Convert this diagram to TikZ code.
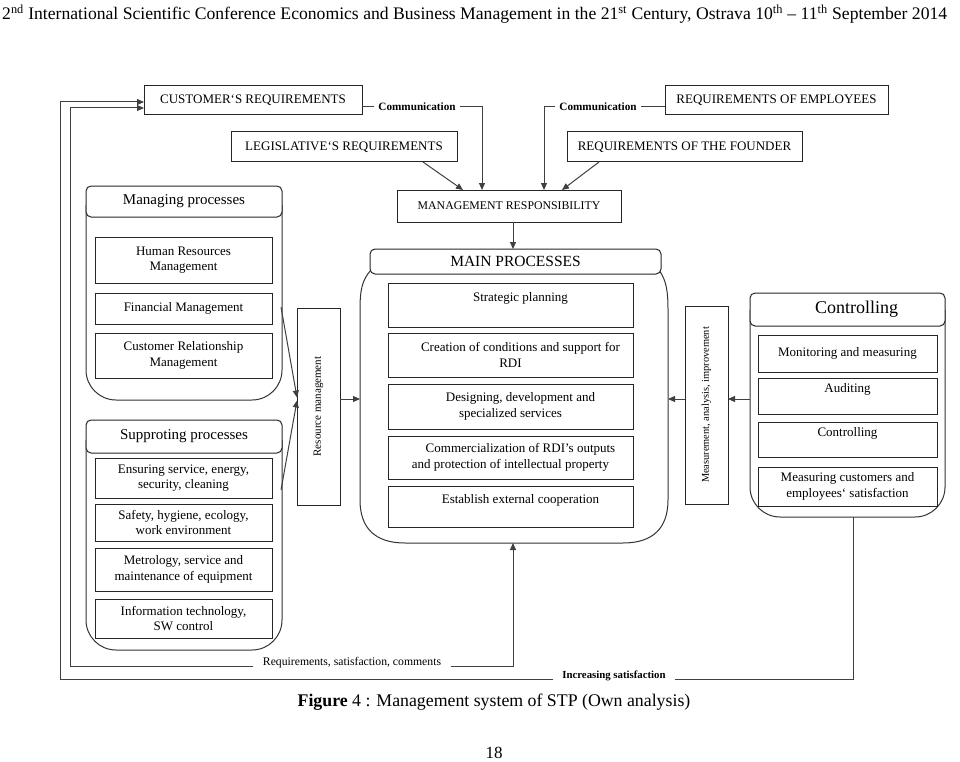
\documentclass[tikz,border=0pt]{standalone}
\usepackage{fontspec}
\setmainfont{Liberation Serif}
\usepackage{graphicx}
\usetikzlibrary{arrows.meta}
\newcommand\fs[2]{\fontsize{#1}{#2}\selectfont}
\newcommand\mybox[7][]{\node[box,#1,minimum width={(#5-#3)*1pt},minimum height={(#6-#4)*1pt}] (#2) at ({(#3+#5)/2},{(#4+#6)/2}) {#7};}
\tikzset{
  box/.style={draw=black!85, line width=1pt, inner sep=0pt, outer sep=0pt, align=center, font=\fs{13}{15.5}},
  capbox/.style={font=\fs{13}{15}},
  hdr/.style={rounded corners=5pt, fill=white},
  grp/.style={draw=black!80, line width=1pt},
  ln/.style={draw=black!75, line width=1pt},
  arr/.style={ln, -{Triangle[length=7pt,width=6pt]}},
  lbl/.style={fill=white, inner ysep=1pt, inner xsep=8pt}
}
\begin{document}
\begin{tikzpicture}[x=1pt,y=-1pt]
\useasboundingbox (0,0) rectangle (960,762);
\fill[white] (0,0) rectangle (960,762);

% page header
\node[anchor=base west, inner sep=0pt] (head) at (2,20) {\resizebox{945pt}{!}{\fs{17}{20}2\textsuperscript{nd} International Scientific Conference Economics and Business Management in the 21\textsuperscript{st} Century, Ostrava 10\textsuperscript{th} – 11\textsuperscript{th} September 2014}};

% top requirement boxes
\mybox[capbox]{cust}{144}{86}{362}{115}{CUSTOMER‘S REQUIREMENTS}
\mybox[capbox]{leg}{231}{132}{457}{162}{LEGISLATIVE‘S REQUIREMENTS}
\mybox[capbox]{emp}{665}{86}{888}{115}{REQUIREMENTS OF EMPLOYEES}
\mybox[capbox]{fnd}{567}{132}{802}{162}{REQUIREMENTS OF THE FOUNDER}
\mybox[capbox,font=\fs{11.8}{13}]{mgmt}{397}{190}{621}{222}{MANAGEMENT RESPONSIBILITY}

\node[lbl, inner xsep=4pt, font=\bfseries\fs{11.2}{12}] (c1) at (417,107) {Communication};
\node[lbl, inner xsep=4pt, font=\bfseries\fs{11.2}{12}] (c2) at (598,107) {Communication};

% managing processes
\draw[grp, rounded corners=30pt] (86,205) -- (86,400) -- (282,400) -- (282,205);
\mybox[hdr,font=\fs{15}{18}]{mph}{86}{186}{282}{217}{Managing processes}
\mybox{hrm}{95}{237}{272}{283}{Human Resources\\Management}
\mybox{fin}{95}{293}{272}{324}{Financial Management}
\mybox{crm}{95}{333}{272}{378}{Customer Relationship\\Management}

% supporting processes
\draw[grp, rounded corners=30pt] (86,440) -- (86,650) -- (282,650) -- (282,440);
\mybox[hdr,font=\fs{15}{18}]{sph}{86}{420}{282}{453}{Supproting processes}
\mybox{esc}{95}{458}{272}{498}{Ensuring service, energy,\\security, cleaning}
\mybox{shy}{95}{504}{272}{541}{Safety, hygiene, ecology,\\work environment}
\mybox{met}{95}{548}{272}{591}{Metrology, service and\\maintenance of equipment}
\mybox{itc}{95}{599}{272}{638}{Information technology,\\SW control}

% resource management
\mybox{res}{297}{308}{340}{505}{\rotatebox{90}{\fs{11}{12}Resource management}}

% main processes
\draw[grp] (371,270) .. controls (362,280) and (360,290) .. (360,310) -- (360,500) .. controls (360,528) and (375,543) .. (405,543) -- (623,543) .. controls (653,543) and (668,528) .. (668,500) -- (668,310) .. controls (668,290) and (666,280) .. (659,270);
\mybox[hdr,font=\fs{15.5}{18}]{mainh}{370}{249}{661}{274}{MAIN PROCESSES}
\mybox{spl}{388}{283}{633}{327}{\hspace*{20pt}Strategic planning\\ \mbox{}}
\mybox{cre}{388}{333}{633}{377}{\hspace*{20pt}Creation of conditions and support for\\RDI}
\mybox{des}{388}{384}{633}{429}{\hspace*{20pt}Designing, development and\\specialized services}
\mybox{com}{388}{436}{633}{479}{\hspace*{20pt}Commercialization of RDI’s outputs\\and protection of intellectual property}
\mybox{est}{388}{486}{633}{527}{\hspace*{20pt}Establish external cooperation\\ \mbox{}}

% measurement
\mybox{meas}{685}{306}{728}{504}{\rotatebox{90}{\fs{10.4}{12}Measurement, analysis, improvement}}

% controlling
\draw[grp, rounded corners=30pt] (750,310) -- (750,517) -- (945,517) -- (945,310);
\mybox[hdr,font=\fs{18}{20}]{cph}{750}{293}{945}{326}{\hspace*{18pt}Controlling}
\mybox{mon}{758}{335}{937}{372}{Monitoring and measuring}
\mybox{aud}{758}{378}{937}{414}{Auditing\\ \mbox{}}
\mybox{ctl}{758}{422}{937}{457}{Controlling\\ \mbox{}}
\mybox{msr}{758}{467}{937}{506}{Measuring customers and\\employees‘ satisfaction}

% coordinates
\coordinate (k1) at (482,107);
\coordinate (k0) at (544,107);
\coordinate (mpr) at (281,307);
\coordinate (spr) at (281,490);
\coordinate (ml) at (360,399);
\coordinate (mr) at (668,399);
\coordinate (cl) at (750,399);
\coordinate (mb) at (513,543);
\coordinate (k2) at (513,666);
\coordinate (l0) at (70,666);
\coordinate (l1) at (70,108);
\coordinate (cb) at (853,517);
\coordinate (o1) at (853,679);
\coordinate (o2) at (60,679);
\coordinate (o3) at (60,102);

% top connectors
\draw[ln] (cust.east |- c1) -- (c1.west);
\draw[arr] (c1.east) -- (k1) -- (k1 |- mgmt.north);
\draw[ln] (emp.west |- c2) -- (c2.east);
\draw[arr] (c2.west) -- (k0) -- (k0 |- mgmt.north);
\draw[arr] ([xshift=-34pt]leg.south east) -- ([xshift=66pt]mgmt.north west);
\draw[arr] ([xshift=32pt]fnd.south west) -- ([xshift=-59pt]mgmt.north east);
\draw[arr] (mgmt.south -| mb) -- (mb |- mainh.north);

% side connectors
\draw[arr] (mpr) -- ([yshift=1.5pt]res.west |- ml);
\draw[arr] (spr) -- ([yshift=-1.5pt]res.west |- ml);
\draw[arr] (res.east |- ml) -- (ml);
\draw[arr] (cl) -- (meas.east |- cl);
\draw[arr] (meas.west |- mr) -- (mr);

% feedback loops
\node[lbl, inner xsep=10pt, font=\fs{11.7}{13}] (rsc) at (352,663) {Requirements, satisfaction, comments};
\node[lbl, inner xsep=9pt, font=\bfseries\fs{10.8}{13}] (inc) at (614,676) {Increasing satisfaction};
\draw[arr] (rsc.west |- l0) -- (l0) -- (l1) -- (cust.west |- l1);
\draw[arr] (rsc.east |- k2) -- (k2) -- (mb);
\draw[ln] (cb) -- (o1) -- (inc.east |- o1);
\draw[arr] (inc.west |- o1) -- (o2) -- (o3) -- (cust.west |- o3);

% caption and page number
\node[anchor=base, inner sep=0pt] (cap) at (494,706) {\fs{17.8}{20}\textbf{Figure} 4 : Management system of STP (Own analysis)};
\node[anchor=base, inner sep=0pt] (pg) at (494,758) {\fs{17}{20}18};
\end{tikzpicture}
\end{document}
